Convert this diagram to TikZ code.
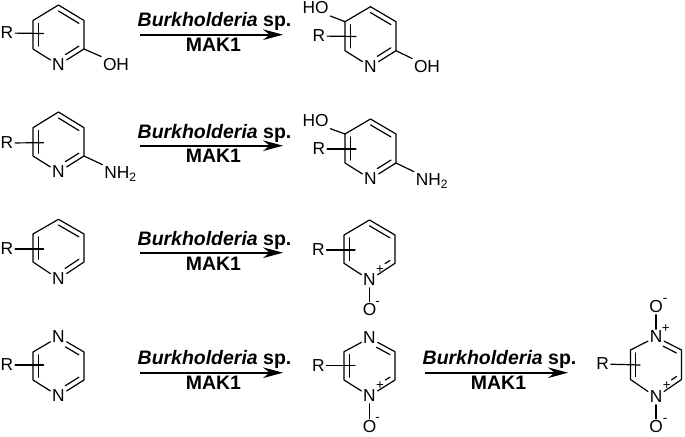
\documentclass[tikz,border=0pt]{standalone}
\usepackage{fontspec}
\setmainfont{Liberation Sans}
\usepackage{tikz}
\usetikzlibrary{arrows.meta,calc}

\tikzset{
    bond/.style={line width=0.9pt, line cap=round, line join=round},
    atom/.style={font=\fontsize{13}{15}\selectfont, inner sep=1.2pt},
    charge/.style={font=\fontsize{10}{11}\selectfont, inner sep=0pt},
    strain/.style={font=\fontsize{14.6}{16}\selectfont\bfseries, inner sep=0pt, anchor=base},
    rxnarrow/.style={line width=1.2pt, -{Stealth[length=15pt, width=8pt, inset=5pt]}}
}

% ring corners, 1 on top and going clockwise, 0 is the middle
\newcommand{\ringpts}[6]{
    \coordinate (#10) at (#2,{(#4+#5)/2});
    \coordinate (#11) at (#2,#3);
    \coordinate (#12) at (#2+25.5,#4);
    \coordinate (#13) at (#2+25.5,#5);
    \coordinate (#14) at (#2,#6);
    \coordinate (#15) at (#2-25.5,#5);
    \coordinate (#16) at (#2-25.5,#4);
}
% inner line of a double bond
\newcommand{\dbond}[4][]{
    \draw[bond,#1] ($(#2#3)!0.2!(#20)$) -- ($(#2#4)!0.2!(#20)$);
}

\begin{document}
\begin{tikzpicture}[x=0.75pt,y=-0.75pt]
    \useasboundingbox (0,0) rectangle (685,436);

    % reaction arrows with their labels
    \foreach \nm/\xa/\xb/\ya/\yb/\yc in {
        ra/140/283/26.7/34.7/51.7,
        rb/140/283/138.3/145.7/162.7,
        rc/140/283/245/252.7/270,
        rd/140/283/364/372.7/389.3,
        re/425/568/364/372.7/389.3}
    {
        \coordinate (\nm a) at (\xa,\yb);
        \coordinate (\nm b) at (\xb,\yb);
        \draw[rxnarrow] (\nm a) -- (\nm b);
        \node[strain] (\nm top) at ({(\xa+\xb)/2+3},\ya) {\textit{Burkholderia} sp.};
        \node[strain] (\nm low) at ({(\xa+\xb)/2+2},\yc) {MAK1};
    }

    % row 1, left
    \ringpts{aa}{58.5}{5}{20.5}{49}{65}
    \node[atom] (aaN) at (aa4) {N};
    \node[atom] (aaR) at (7,33) {R};
    \node[atom] (aaOH) at (116,64.5) {OH};
    \coordinate (aaX) at (43.5,33.5);
    \draw[bond] (aa1) -- (aa2) -- (aa3) -- (aaN) -- (aa5) -- (aa6) -- (aa1);
    \draw[bond] (aa3) -- (aaOH.north west);
    \draw[bond] (aaR) -- (aaX);
    \dbond{aa}{1}{2}
    \dbond{aa}{5}{6}
    \dbond[shorten <=6pt]{aa}{4}{3}

    % row 1, right
    \ringpts{ab}{370.5}{6.7}{21.7}{50.7}{66.7}
    \node[atom] (abN) at (ab4) {N};
    \node[atom] (abR) at (319,36) {R};
    \node[atom] (abHO) at (315.5,8) {HO};
    \node[atom] (abOH) at (427,66.5) {OH};
    \coordinate (abX) at (356,36.5);
    \draw[bond] (ab1) -- (ab2) -- (ab3) -- (abN) -- (ab5) -- (ab6) -- (ab1);
    \draw[bond] (ab3) -- (abOH.north west);
    \draw[bond] (ab6) -- (abHO.south east);
    \draw[bond] (abR) -- (abX);
    \dbond{ab}{1}{2}
    \dbond{ab}{5}{6}
    \dbond[shorten <=6pt]{ab}{4}{3}

    % row 2, left
    \ringpts{ba}{58.5}{112}{127.7}{156}{172}
    \node[atom] (baN) at (ba4) {N};
    \node[atom] (baR) at (7,143) {R};
    \node[atom,anchor=west] (baNH) at (102.5,174) {NH\textsubscript{2}};
    \coordinate (baX) at (43.5,142.7);
    \draw[bond] (ba1) -- (ba2) -- (ba3) -- (baN) -- (ba5) -- (ba6) -- (ba1);
    \draw[bond] (ba3) -- (baNH.north west);
    \draw[bond] (baR) -- (baX);
    \dbond{ba}{1}{2}
    \dbond{ba}{5}{6}
    \dbond[shorten <=6pt]{ba}{4}{3}

    % row 2, right
    \ringpts{bb}{370.5}{119}{134}{163}{179}
    \node[atom] (bbN) at (bb4) {N};
    \node[atom] (bbR) at (319,149) {R};
    \node[atom] (bbHO) at (315.5,120.7) {HO};
    \node[atom,anchor=west] (bbNH) at (414,181) {NH\textsubscript{2}};
    \coordinate (bbX) at (356,149);
    \draw[bond] (bb1) -- (bb2) -- (bb3) -- (bbN) -- (bb5) -- (bb6) -- (bb1);
    \draw[bond] (bb3) -- (bbNH.north west);
    \draw[bond] (bb6) -- (bbHO.south east);
    \draw[bond] (bbR) -- (bbX);
    \dbond{bb}{1}{2}
    \dbond{bb}{5}{6}
    \dbond[shorten <=6pt]{bb}{4}{3}

    % row 3, left
    \ringpts{ca}{58.5}{219.3}{234}{262}{279}
    \node[atom] (caN) at (ca4) {N};
    \node[atom] (caR) at (7,249) {R};
    \coordinate (caX) at (43.5,249);
    \draw[bond] (ca1) -- (ca2) -- (ca3) -- (caN) -- (ca5) -- (ca6) -- (ca1);
    \draw[bond] (caR) -- (caX);
    \dbond{ca}{1}{2}
    \dbond{ca}{5}{6}
    \dbond[shorten <=6pt]{ca}{4}{3}

    % row 3, right
    \ringpts{cb}{369.5}{220}{235}{263.3}{280}
    \node[atom] (cbN) at (cb4) {N};
    \node[atom] (cbO) at (369.5,309.5) {O};
    \node[atom] (cbR) at (318.3,250) {R};
    \node[charge] (cbp) at (380,269.3) {+};
    \node[charge] (cbm) at (377.5,303) {-};
    \coordinate (cbX) at (355,250);
    \draw[bond] (cb1) -- (cb2) -- (cb3) -- (cbN) -- (cb5) -- (cb6) -- (cb1);
    \draw[bond] (cbN) -- (cbO);
    \draw[bond] (cbR) -- (cbX);
    \dbond{cb}{1}{2}
    \dbond{cb}{5}{6}
    \dbond[shorten <=14pt]{cb}{4}{3}

    % row 4, left
    \ringpts{da}{58.5}{337}{352}{380}{396}
    \node[atom] (daT) at (da1) {N};
    \node[atom] (daN) at (da4) {N};
    \node[atom] (daR) at (7,365) {R};
    \coordinate (daX) at (43.5,365);
    \draw[bond] (daT) -- (da2) -- (da3) -- (daN) -- (da5) -- (da6) -- (daT);
    \draw[bond] (daR) -- (daX);
    \dbond[shorten <=6pt]{da}{1}{2}
    \dbond{da}{5}{6}
    \dbond[shorten <=6pt]{da}{4}{3}

    % row 4, middle
    \ringpts{db}{369.5}{338}{351.7}{380}{396}
    \node[atom] (dbT) at (db1) {N};
    \node[atom] (dbN) at (db4) {N};
    \node[atom] (dbO) at (369.5,426.7) {O};
    \node[atom] (dbR) at (318.3,365.7) {R};
    \node[charge] (dbp) at (380,385.7) {+};
    \node[charge] (dbm) at (377.5,419) {-};
    \coordinate (dbX) at (355,365.7);
    \draw[bond] (dbT) -- (db2) -- (db3) -- (dbN) -- (db5) -- (db6) -- (dbT);
    \draw[bond] (dbN) -- (dbO);
    \draw[bond] (dbR) -- (dbX);
    \dbond[shorten <=6pt]{db}{1}{2}
    \dbond{db}{5}{6}
    \dbond[shorten <=14pt]{db}{4}{3}

    % row 4, right
    \ringpts{dc}{656}{337}{350}{379.5}{397}
    \node[atom] (dcT) at (dc1) {N};
    \node[atom] (dcN) at (dc4) {N};
    \node[atom] (dcOa) at (656,306.7) {O};
    \node[atom] (dcOb) at (656,426.7) {O};
    \node[atom] (dcR) at (602.7,364) {R};
    \node[charge] (dcpa) at (665.7,329) {+};
    \node[charge] (dcpb) at (666.7,385.7) {+};
    \node[charge] (dcma) at (665,300) {-};
    \node[charge] (dcmb) at (665,420) {-};
    \coordinate (dcX) at (640,365);
    \draw[bond] (dcT) -- (dc2) -- (dc3) -- (dcN) -- (dc5) -- (dc6) -- (dcT);
    \draw[bond] (dcT) -- (dcOa);
    \draw[bond] (dcN) -- (dcOb);
    \draw[bond] (dcR) -- (dcX);
    \dbond[shorten <=6pt]{dc}{1}{2}
    \dbond{dc}{5}{6}
    \dbond[shorten <=14pt]{dc}{4}{3}
\end{tikzpicture}
\end{document}
